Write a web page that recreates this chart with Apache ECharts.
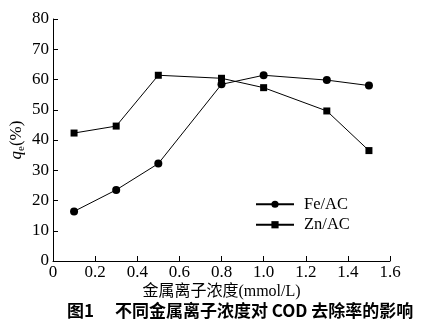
<!DOCTYPE html>
<html>
<head>
<meta charset="utf-8">
<script src="https://cdn.jsdelivr.net/npm/echarts@6/dist/echarts.min.js"></script>
<style>html,body{margin:0;padding:0;background:#fff}#c{width:430px;height:329px}</style>
</head>
<body>
<div id="c"></div>
<script>
var xValues = [0.1, 0.3, 0.5, 0.8, 1.0, 1.3, 1.5];
var feValues = [16.4, 23.5, 32.2, 58.4, 61.4, 59.8, 58.0];
var znValues = [42.3, 44.6, 61.4, 60.4, 57.3, 49.6, 36.5];
var seriesNames = ['Fe/AC', 'Zn/AC'];
var xAxisName = '金属离子浓度(mmol/L)';
var caption = '图1\u3000 不同金属离子浓度对 COD 去除率的影响';

var serif = 'Liberation Serif, Noto Sans CJK SC, serif';
function pairs(vals) { return xValues.map(function (x, i) { return [x, vals[i]]; }); }

var chart = echarts.init(document.getElementById('c'), null, {renderer: 'canvas'});
chart.setOption({
  animation: false,
  backgroundColor: '#fff',
  grid: {left: 53, right: 40, top: 19, bottom: 68, containLabel: false, outerBoundsMode: 'none'},
  xAxis: {
    type: 'value', min: 0, max: 1.6, interval: 0.2,
    name: xAxisName, nameLocation: 'middle', nameGap: 23, nameMoveOverlap: false,
    nameTextStyle: {fontFamily: serif, fontSize: 16, color: '#000', verticalAlign: 'top'},
    axisLine: {show: true, lineStyle: {color: '#000', width: 1}},
    axisTick: {show: true, inside: true, length: 5, lineStyle: {color: '#000'}},
    axisLabel: {fontFamily: serif, fontSize: 17, color: '#000', margin: 3,
      formatter: function (v) { return v === 0 ? '0' : v.toFixed(1); }},
    splitLine: {show: false}
  },
  yAxis: {
    type: 'value', min: 0, max: 80, interval: 10,
    name: '{q|q}{e|e}{p|(%)}', nameLocation: 'middle', nameGap: 26, nameRotate: 90, nameMoveOverlap: false,
    nameTextStyle: {
      color: '#000', verticalAlign: 'bottom',
      rich: {
        q: {fontFamily: serif, fontSize: 17, fontStyle: 'italic', color: '#000', lineHeight: 20},
        e: {fontFamily: serif, fontSize: 11, color: '#000', lineHeight: 20, padding: [8, 0, 0, 0]},
        p: {fontFamily: serif, fontSize: 17, color: '#000', lineHeight: 20}
      }
    },
    axisLine: {show: true, lineStyle: {color: '#000', width: 1}},
    axisTick: {show: true, inside: true, length: 5, lineStyle: {color: '#000'}},
    axisLabel: {fontFamily: serif, fontSize: 17, color: '#000', margin: 4},
    splitLine: {show: false}
  },
  legend: {
    left: 255, top: 196, padding: 0, orient: 'vertical', itemWidth: 38, itemHeight: 9, itemGap: 4,
    textStyle: {fontFamily: serif, fontSize: 16.5, color: '#000', lineHeight: 16, padding: [0, 0, 0, 5]},
    data: seriesNames
  },
  series: [
    {name: seriesNames[0], type: 'line', data: pairs(feValues), symbol: 'circle', symbolSize: 8,
      lineStyle: {color: '#000', width: 1}, itemStyle: {color: '#000'}},
    {name: seriesNames[1], type: 'line', data: pairs(znValues), symbol: 'rect', symbolSize: 7,
      lineStyle: {color: '#000', width: 1}, itemStyle: {color: '#000'}}
  ],
  graphic: [{
    type: 'text', left: 67, top: 302,
    style: {text: caption, font: 'bold 17px "Noto Sans CJK SC", sans-serif', fill: '#000'}
  }]
});
</script>
</body>
</html>
